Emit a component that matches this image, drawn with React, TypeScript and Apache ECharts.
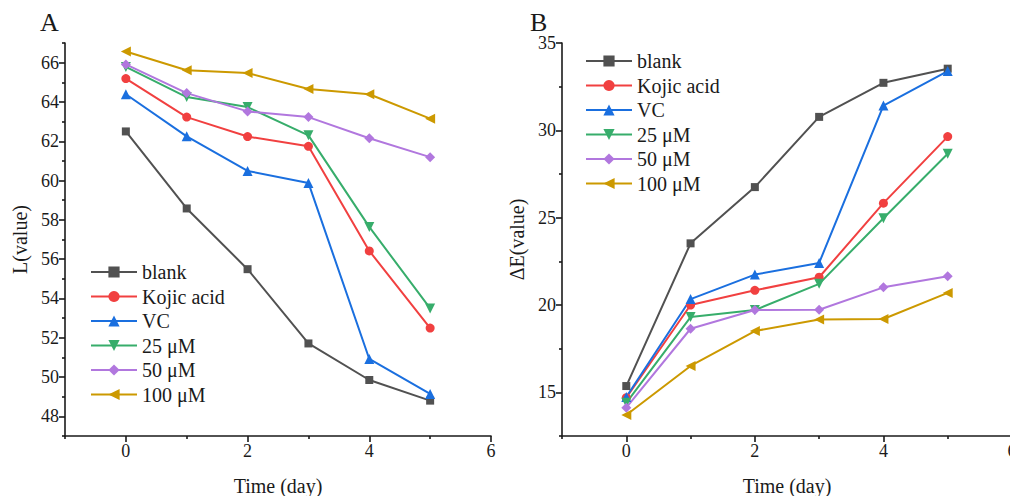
import React, { useEffect, useRef } from "react";
import * as echarts from "echarts";

const days = [0, 1, 2, 3, 4, 5];
const seriesNames = ["blank", "Kojic acid", "VC", "25 μM", "50 μM", "100 μM"];
const colors = ["#515151", "#F14040", "#1A6FDF", "#37AD6B", "#B177DE", "#CC9900"];
const symbols = ["rect", "circle", "triangle", "triangle", "diamond", "triangle"];
const symbolRotates = [0, 0, 0, 180, 0, 90];
const symbolSizes = [8, 9, 10, 10, 10, 10];

const lBlank = [62.5, 58.58, 55.49, 51.71, 49.85, 48.8];
const lKojic = [65.19, 63.23, 62.24, 61.74, 56.42, 52.49];
const lVC = [64.39, 62.25, 60.49, 59.88, 50.92, 49.14];
const l25 = [65.78, 64.25, 63.74, 62.3, 57.64, 53.49];
const l50 = [65.91, 64.45, 63.52, 63.23, 62.15, 61.19];
const l100 = [66.57, 65.61, 65.47, 64.66, 64.39, 63.15];

const eBlank = [15.36, 23.53, 26.75, 30.77, 32.72, 33.53];
const eKojic = [14.69, 20.0, 20.84, 21.59, 25.83, 29.64];
const eVC = [14.73, 20.34, 21.74, 22.41, 31.42, 33.39];
const e25 = [14.4, 19.31, 19.71, 21.21, 24.97, 28.66];
const e50 = [14.12, 18.64, 19.71, 19.73, 21.01, 21.64];
const e100 = [13.7, 16.51, 18.51, 19.17, 19.2, 20.69];

const xMajor = [0, 2, 4, 6];
const xMinor = [-1, 1, 3, 5];
const lMajor = [48, 50, 52, 54, 56, 58, 60, 62, 64, 66];
const lMinor = [47, 49, 51, 53, 55, 57, 59, 61, 63, 65, 67];
const eMajor = [15, 20, 25, 30, 35];
const eMinor = [12.5, 17.5, 22.5, 27.5, 32.5];

const FONT = "Liberation Serif";
const INK = "#1a1a1a";

const lData = [lBlank, lKojic, lVC, l25, l50, l100];
const eData = [eBlank, eKojic, eVC, e25, e50, e100];

function mainAxis(grid: number, min: number, max: number, interval: number, major: number[], name: string, isX: boolean) {
  return {
    type: "value",
    gridIndex: grid,
    min,
    max,
    interval,
    position: isX ? "bottom" : "left",
    name,
    nameLocation: "middle",
    nameGap: isX ? 40 : 35,
    nameTextStyle: { fontFamily: FONT, fontSize: 20, color: INK },
    axisLine: { show: true, onZero: false, lineStyle: { color: INK, width: 1.6 } },
    axisTick: { show: true, inside: false, length: 6, customValues: major, lineStyle: { color: INK, width: 1.6 } },
    axisLabel: { show: true, customValues: major, margin: 6, fontFamily: FONT, fontSize: 18, color: INK },
    splitLine: { show: false },
  };
}

function minorAxis(grid: number, min: number, max: number, interval: number, minor: number[], isX: boolean) {
  return {
    type: "value",
    gridIndex: grid,
    min,
    max,
    interval,
    position: isX ? "bottom" : "left",
    offset: 0,
    axisLine: { show: false, onZero: false },
    axisTick: { show: true, inside: false, length: 3, customValues: minor, lineStyle: { color: INK, width: 1.6 } },
    axisLabel: { show: false },
    splitLine: { show: false },
  };
}

export default function App() {
  const ref = useRef<HTMLDivElement>(null);
  useEffect(() => {
    if (!ref.current) return;
    const chart = echarts.init(ref.current, undefined, { renderer: "svg" });
    const series: any[] = [];
    const makeSeries = (data: number[][], xi: number, yi: number) => {
      data.forEach((vals, i) => {
        series.push({
          type: "line",
          name: seriesNames[i],
          xAxisIndex: xi,
          yAxisIndex: yi,
          data: days.map((d, k) => [d, vals[k]]),
          symbol: symbols[i],
          symbolSize: symbolSizes[i],
          symbolRotate: symbolRotates[i],
          showAllSymbol: true,
          lineStyle: { color: colors[i], width: 2 },
          itemStyle: { color: colors[i] },
          emphasis: { disabled: true },
        });
      });
    };
    makeSeries(lData, 0, 0);
    makeSeries(eData, 2, 2);

    const legendBase = {
      orient: "vertical",
      itemWidth: 46,
      itemHeight: 14,
      itemGap: 4.5,
      padding: 0,
      selectedMode: false,
      data: seriesNames,
      textStyle: { fontFamily: FONT, fontSize: 20, color: INK, lineHeight: 20 },
    };

    chart.setOption({
      animation: false,
      backgroundColor: "#ffffff",
      grid: [
        { left: 65, top: 43, width: 426, height: 393, containLabel: false, outerBoundsMode: "none" },
        { left: 562, top: 43, width: 450, height: 393, containLabel: false, outerBoundsMode: "none" },
      ],
      xAxis: [
        mainAxis(0, -1, 6, 1, xMajor, "Time (day)", true),
        minorAxis(0, -1, 6, 1, xMinor, true),
        mainAxis(1, -1, 6, 1, xMajor, "Time (day)", true),
        minorAxis(1, -1, 6, 1, xMinor, true),
      ],
      yAxis: [
        mainAxis(0, 47, 67, 1, lMajor, "L(value)", false),
        minorAxis(0, 47, 67, 1, lMinor, false),
        mainAxis(1, 12.5, 35, 2.5, eMajor, "ΔE(value)", false),
        minorAxis(1, 12.5, 35, 2.5, eMinor, false),
      ],
      legend: [
        { ...legendBase, left: 90, top: 262 },
        { ...legendBase, left: 585, top: 51 },
      ],
      graphic: [
        { type: "text", left: 40, top: 9, style: { text: "A", font: `26px "${FONT}"`, fill: INK } },
        { type: "text", left: 530, top: 9, style: { text: "B", font: `26px "${FONT}"`, fill: INK } },
      ],
      series,
    });
    return () => chart.dispose();
  }, []);
  return (
    <div
      ref={ref}
      style={{ position: "absolute", left: 0, top: 0, width: 1010, height: 496, background: "#fff" }}
    />
  );
}
